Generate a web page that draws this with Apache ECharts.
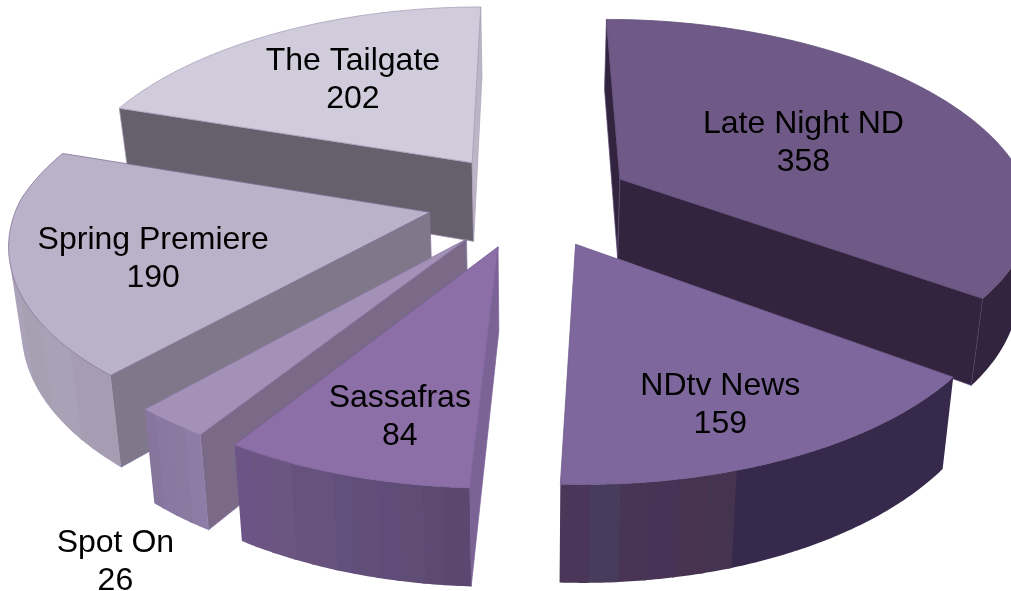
<!DOCTYPE html>
<html>
<head>
<meta charset="utf-8">
<style>html,body{margin:0;padding:0;background:#fff}#c{width:1011px;height:591px}</style>
<script src="https://cdn.jsdelivr.net/npm/echarts@6/dist/echarts.min.js"></script>
</head>
<body>
<div id="c"></div>
<script>
const categories = ['Late Night ND', 'NDtv News', 'Sassafras', 'Spot On', 'Spring Premiere', 'The Tailgate'];
const values = [358, 159, 84, 26, 190, 202];

// styles
const rep = (c, n) => Array(n).fill(c);
const topColors = ['#6f5a87', '#7e679c', '#8d6fa8', '#a391b8', '#bab2c9', '#d0ccdb'];
const edgeColors = ['#5f4e78', '#6d5a8c', '#7a6198', '#8a78a6', '#7f7198', '#a79fb8'];
const startWall = ['#32243f', '#37294c', '#7b6396', '#7a6a88', '#80788a', '#66606c'];
const endWall = ['#32243f', '#37294c', '#5f4c78', '#8a78a3', '#a8a0b2', '#bcb5c6'];
const wallBands = [
  ['#32243f'],
  rep('#37294c', 10).concat(['#443450', '#483252', '#463355', '#483556', '#483c5c', '#4a3658']),
  ['#5a4870', '#5c4a73', '#5f4d76', '#5f4c78', '#614f79', '#62507c', '#66527c', '#67527e', '#6b5581', '#6d5583', '#6c5586'],
  ['#8d7da6', '#8a7aa2', '#8978a2', '#86769e'],
  ['#a69db2', '#a9a1b6', '#a79fb2', '#aaa2b8', '#a9a1b3', '#a9a1b4', '#a9a1b4', '#aaa3b6'],
  ['#bcb5c6']
];
// label placement relative to each slice
const labelRadius = [0.518, 0.773, 0.777, 1.455, 0.673, 0.601];
const labelTurn = [2.2, 3.2, -2.9, -11, -4, 3.1];
const labelNudgeX = [4, 1, -1, -5, -1, -6];
const labelNudgeY = [2, -2.5, -3, -7.5, 3, 2];

// perspective model of the exploded disc
const M = { cx: 530, cy: 200, cyB: 281, A: 411, B: 189.4, BB: 201, p: 0.15, pxBack: 0.18, pxFront: 0.14, xB: 0.975, explode: 0.25 };
const total = values.reduce((a, b) => a + b, 0);
const rad = d => d * Math.PI / 180;

function project(X, Y, bottom) {
  const s = 1 / (1 + M.p * Y);
  const sx = 1 / (1 + (Y > 0 ? M.pxBack : M.pxFront) * Y);
  if (!bottom) return [M.cx + M.A * X * sx, M.cy - M.B * Y * s];
  return [M.cx + M.A * M.xB * X * sx, M.cyB - M.BB * Y * s];
}

const starts = [];
values.reduce((acc, v, i) => { starts[i] = acc; return acc + v; }, 0);

// a wall below the edge p->q of the clockwise top face shows only if it drops outward
function facesViewer(p, q, pb) {
  const dx = q[0] - p[0], dy = q[1] - p[1];
  return (pb[0] - p[0]) * dy - (pb[1] - p[1]) * dx > 0;
}

function renderSlice(params, api) {
  const i = params.dataIndex;
  const v = api.value(0);
  const a0 = starts[i] / total * 360;
  const a1 = a0 + v / total * 360;
  const mid = (a0 + a1) / 2;
  const ox = M.explode * Math.sin(rad(mid));
  const oy = M.explode * Math.cos(rad(mid));
  const pt = (a, r) => [ox + r * Math.sin(rad(a)), oy + r * Math.cos(rad(a))];
  const rank = -Math.round(oy * 1000) * 10000;
  const children = [];
  const steps = Math.max(8, Math.ceil((a1 - a0) * 2));
  const arcT = [], arcB = [];
  for (let k = 0; k <= steps; k++) {
    const q = pt(a0 + (a1 - a0) * k / steps, 1);
    arcT.push(project(q[0], q[1], false));
    arcB.push(project(q[0], q[1], true));
  }
  const apexT = project(ox, oy, false), apexB = project(ox, oy, true);
  const poly = (points, fill, stroke, w, z) => children.push({
    type: 'polygon', z2: rank + z, shape: { points },
    style: { fill, stroke: stroke, lineWidth: w, lineJoin: 'round' }
  });
  if (facesViewer(apexT, arcT[0], apexB)) {
    poly([apexT, arcT[0], arcB[0], apexB], startWall[i], edgeColors[i], 0.7, 1);
  }
  if (facesViewer(arcT[steps], apexT, arcB[steps])) {
    poly([apexT, arcT[steps], arcB[steps], apexB], endWall[i], edgeColors[i], 0.7, 2);
  }
  // curved wall: one polygon per colour band, visible steps only; each band
  // overlaps the next by one step so no seam shows between them
  const bands = wallBands[i];
  let run = null, runColor = null, seq = 3;
  const flush = (extra) => {
    if (run) {
      const idx = extra == null ? run : run.concat([extra]);
      const top = idx.map(k => arcT[k]);
      const bot = idx.map(k => arcB[k]).reverse();
      poly(top.concat(bot), runColor, null, 0, seq++);
    }
    run = null;
  };
  for (let k = 0; k < steps; k++) {
    const c = bands[Math.min(bands.length - 1, Math.floor(k / steps * bands.length))];
    if (!facesViewer(arcT[k], arcT[k + 1], arcB[k])) { flush(); continue; }
    if (run && c !== runColor) { const last = run[run.length - 1]; flush(k + 1); run = [last]; }
    if (!run) run = [k];
    runColor = c;
    run.push(k + 1);
  }
  flush();
  poly([apexT].concat(arcT), topColors[i], edgeColors[i], 0.8, 500);
  const la = rad(mid + labelTurn[i]);
  const lp = project(ox + labelRadius[i] * Math.sin(la), oy + labelRadius[i] * Math.cos(la), false);
  children.push({
    type: 'text', z2: 99999999,
    style: {
      text: categories[i] + '\n' + v,
      x: lp[0] + labelNudgeX[i], y: lp[1] + labelNudgeY[i], align: 'center', verticalAlign: 'middle',
      font: '32px "Liberation Sans", Arial, sans-serif', lineHeight: 38, fill: '#000'
    }
  });
  return { type: 'group', children };
}

const chart = echarts.init(document.getElementById('c'), null, { renderer: 'canvas' });
chart.setOption({
  animation: false,
  backgroundColor: '#fff',
  series: [{
    type: 'custom',
    coordinateSystem: 'none',
    silent: true,
    clip: false,
    renderItem: renderSlice,
    data: values.map((v, i) => ({ name: categories[i], value: [v] }))
  }]
});
</script>
</body>
</html>
